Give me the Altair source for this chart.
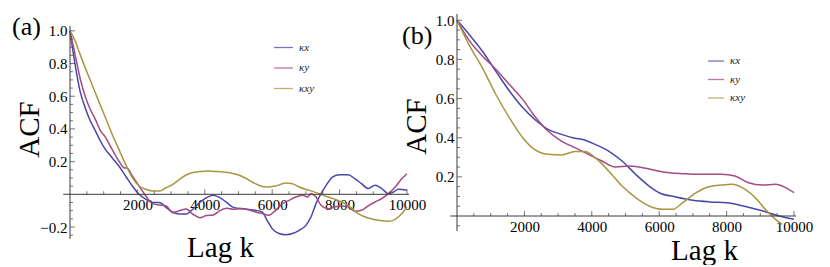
import altair as alt
import pandas as pd

SERIES = ["κx", "κy", "κxy"]
COLORS = ["#4848aa", "#a44a84", "#a89640"]
AXIS_COLOR = "#3a3a3a"
SERIF = "Liberation Serif"

# ---------------- panel (a) ----------------
a_kx_lag = [0, 150, 300, 450, 600, 750, 900, 1050, 1250, 1450, 1650, 1850, 2050, 2250, 2450, 2650,
            2850, 3050, 3250, 3450, 3650, 3850, 4050, 4250, 4450, 4650, 4850, 5200, 5500, 5700, 5850,
            6000, 6200, 6400, 6600, 6800, 7000, 7150, 7300, 7450, 7600, 7800, 8000, 8250, 8450, 8650,
            8850, 9050, 9250, 9450, 9600, 9750, 10000]
a_kx_acf = [1.0, 0.795, 0.63, 0.53, 0.45, 0.39, 0.326, 0.275, 0.224, 0.173, 0.112, 0.051, 0.0, -0.03,
            -0.05, -0.05, -0.08, -0.11, -0.12, -0.12, -0.09, -0.05, -0.02, -0.005, -0.02, -0.05, -0.08,
            -0.09, -0.098, -0.108, -0.159, -0.21, -0.24, -0.247, -0.24, -0.22, -0.19, -0.139, -0.057,
            0.004, 0.055, 0.106, 0.12, 0.12, 0.096, 0.065, 0.035, 0.055, 0.035, 0.004, 0.014, 0.031, 0.025]

a_ky_lag = [0, 150, 300, 450, 600, 750, 900, 1050, 1250, 1450, 1600, 1700, 1850, 2050, 2250, 2450,
            2650, 2850, 3050, 3250, 3450, 3650, 3850, 4050, 4250, 4450, 4650, 4850, 5050, 5300, 5500,
            5700, 5900, 6100, 6300, 6500, 6700, 6900, 7050, 7150, 7300, 7450, 7650, 7850, 8050, 8250,
            8450, 8650, 8850, 9050, 9250, 9450, 9650, 9850, 10000]
a_ky_acf = [1.0, 0.856, 0.71, 0.60, 0.52, 0.46, 0.39, 0.35, 0.275, 0.204, 0.163, 0.16, 0.112, 0.051,
            -0.01, -0.057, -0.065, -0.071, -0.112, -0.10, -0.09, -0.122, -0.143, -0.13, -0.126, -0.10,
            -0.086, -0.092, -0.088, -0.095, -0.108, -0.118, -0.128, -0.098, -0.057, -0.037, -0.016,
            -0.006, -0.016, 0.004, -0.016, -0.067, -0.088, -0.077, -0.071, -0.077, -0.104, -0.098,
            -0.071, -0.047, -0.027, 0.004, 0.045, 0.096, 0.126]

a_kxy_lag = [0, 150, 300, 450, 650, 850, 1050, 1250, 1450, 1650, 1850, 2050, 2250, 2450, 2650, 2850,
             3050, 3250, 3450, 3650, 3850, 4100, 4400, 4700, 5000, 5200, 5500, 5800, 6100, 6400, 6600,
             6800, 7100, 7400, 7650, 7950, 8250, 8550, 8850, 9150, 9450, 9650, 9850, 10000]
a_kxy_acf = [1.0, 0.94, 0.856, 0.775, 0.673, 0.57, 0.47, 0.367, 0.275, 0.183, 0.102, 0.051, 0.031, 0.02,
             0.02, 0.04, 0.061, 0.092, 0.118, 0.133, 0.139, 0.143, 0.139, 0.133, 0.118, 0.10, 0.065,
             0.045, 0.051, 0.069, 0.065, 0.045, 0.024, 0.004, -0.016, -0.037, -0.067, -0.118, -0.145,
             -0.159, -0.165, -0.153, -0.118, -0.077]

# ---------------- panel (b) ----------------
b_kx_lag = [0, 350, 750, 1150, 1550, 1950, 2300, 2700, 3100, 3500, 3700, 4100, 4500, 4900, 5300,
            5700, 6000, 6500, 7000, 7500, 8000, 8500, 9000, 9500, 10000]
b_kx_acf = [1.0, 0.93, 0.843, 0.74, 0.64, 0.554, 0.494, 0.443, 0.417, 0.397, 0.392, 0.366, 0.332,
            0.281, 0.213, 0.153, 0.119, 0.097, 0.08, 0.072, 0.068, 0.051, 0.029, 0.003, -0.017]

b_ky_lag = [0, 350, 750, 1150, 1550, 1950, 2300, 2700, 3100, 3500, 3900, 4300, 4700, 5100, 5500,
            5900, 6300, 6700, 7100, 7500, 7850, 8250, 8650, 9050, 9450, 9750, 10000]
b_ky_acf = [1.0, 0.90, 0.818, 0.75, 0.673, 0.596, 0.511, 0.434, 0.383, 0.349, 0.315, 0.281, 0.25,
            0.255, 0.247, 0.233, 0.221, 0.216, 0.213, 0.213, 0.213, 0.204, 0.17, 0.158, 0.162, 0.145, 0.119]

b_kxy_lag = [0, 350, 750, 1150, 1550, 1950, 2300, 2700, 3100, 3500, 3800, 4100, 4500, 4900, 5300,
             5700, 6100, 6400, 6700, 7100, 7450, 7850, 8150, 8550, 8850, 9150, 9450, 9650]
b_kxy_acf = [1.0, 0.877, 0.758, 0.622, 0.503, 0.40, 0.34, 0.315, 0.312, 0.329, 0.329, 0.298, 0.23,
             0.153, 0.094, 0.051, 0.034, 0.034, 0.068, 0.119, 0.148, 0.158, 0.162, 0.136, 0.094, 0.034,
             -0.017, -0.043]

# ---------------- ticks / labels ----------------
X_LABELS = [2000, 4000, 6000, 8000, 10000]
X_MAJOR_TICKS = [2000, 4000, 6000, 8000, 10000]
X_MINOR_TICKS = [500, 1000, 1500, 2500, 3000, 3500, 4500, 5000, 5500, 6500, 7000, 7500,
                 8500, 9000, 9500]
A_Y_LABELS = [-0.2, 0.2, 0.4, 0.6, 0.8, 1.0]
A_Y_MAJOR_TICKS = [-0.2, 0.2, 0.4, 0.6, 0.8, 1.0]
A_Y_MINOR_TICKS = [-0.25, -0.15, -0.1, -0.05, 0.05, 0.1, 0.15, 0.25, 0.3, 0.35, 0.45, 0.5, 0.55,
                   0.65, 0.7, 0.75, 0.85, 0.9, 0.95]
B_Y_LABELS = [0.2, 0.4, 0.6, 0.8, 1.0]
B_Y_MAJOR_TICKS = [0.2, 0.4, 0.6, 0.8, 1.0]
B_Y_MINOR_TICKS = [-0.05, 0.05, 0.1, 0.15, 0.25, 0.3, 0.35, 0.45, 0.5, 0.55, 0.65, 0.7, 0.75,
                   0.85, 0.9, 0.95]

X_DOMAIN = [0, 10060]
W, H = 339, 225


def long_df(parts):
    rows = []
    for name, lags, vals in parts:
        for k, v in zip(lags, vals):
            rows.append({"series": name, "lag": k, "acf": v})
    return pd.DataFrame(rows)


def panel(df, letter, y_domain, y_axis_span, y_labels, y_major, y_minor, x_offset,
          xt_x, xt_y, yt_x, yt_y, letter_x, letter_y, leg_x, leg_y, sym_size):
    xs = alt.Scale(domain=X_DOMAIN, nice=False, zero=False)
    ys = alt.Scale(domain=y_domain, nice=False, zero=False)
    common = dict(domain=False, ticks=False, grid=False, labelFlush=False, labelOverlap=False,
                  labelFont=SERIF, labelFontSize=15, labelColor="black",
                  titleFont=SERIF, titleFontSize=29, titleFontWeight="normal", titleColor="black")
    xa = alt.Axis(
        title="Lag k", values=X_LABELS, format="d", offset=x_offset, labelPadding=3,
        titleX=xt_x, titleY=xt_y, titleAlign="center", titleBaseline="alphabetic", **common)
    ya = alt.Axis(
        title="ACF", values=y_labels, format=".1f", labelPadding=3,
        titleX=yt_x, titleY=yt_y, titleAngle=270, titleAlign="center",
        titleBaseline="alphabetic", **common)

    lines = alt.Chart(df).mark_line(strokeWidth=1.5, interpolate="monotone").encode(
        x=alt.X("lag:Q", scale=xs, axis=xa),
        y=alt.Y("acf:Q", scale=ys, axis=ya),
        color=alt.Color("series:N", scale=alt.Scale(domain=SERIES, range=COLORS),
                        sort=SERIES,
                        legend=alt.Legend(orient="none", legendX=leg_x, legendY=leg_y,
                                          direction="vertical", title=None, symbolType="stroke",
                                          symbolSize=sym_size, symbolStrokeWidth=1.3,
                                          symbolOpacity=0.75,
                                          labelFont=SERIF, labelFontSize=11,
                                          labelFontStyle="italic", labelColor="#222",
                                          labelOffset=5, rowPadding=4.5, padding=0)),
    )

    xrule = alt.Chart(pd.DataFrame({"x": [-200], "x2": [X_DOMAIN[1]], "y": [0]})).mark_rule(
        color=AXIS_COLOR, strokeWidth=1).encode(
        x=alt.X("x:Q", scale=xs, axis=xa), x2="x2:Q", y=alt.Y("y:Q", scale=ys, axis=ya))
    yrule = alt.Chart(pd.DataFrame({"x": [0], "y": [y_axis_span[0]], "y2": [y_axis_span[1]]})).mark_rule(
        color=AXIS_COLOR, strokeWidth=1).encode(
        x=alt.X("x:Q", scale=xs, axis=xa), y=alt.Y("y:Q", scale=ys, axis=ya), y2="y2:Q")

    def xticks(vals, size):
        d = pd.DataFrame({"v": vals, "z": [0] * len(vals)})
        return alt.Chart(d).mark_tick(orient="vertical", size=size, thickness=1,
                                      color=AXIS_COLOR, yOffset=-size / 2).encode(
            x=alt.X("v:Q", scale=xs, axis=xa), y=alt.Y("z:Q", scale=ys, axis=ya))

    def yticks(vals, size):
        d = pd.DataFrame({"v": vals, "z": [0] * len(vals)})
        return alt.Chart(d).mark_tick(orient="horizontal", size=size, thickness=1,
                                      color=AXIS_COLOR, xOffset=size / 2).encode(
            y=alt.Y("v:Q", scale=ys, axis=ya), x=alt.X("z:Q", scale=xs, axis=xa))

    tag = alt.Chart(pd.DataFrame({"t": [letter]})).mark_text(
        align="left", baseline="alphabetic", font=SERIF, fontSize=26, color="black").encode(
        text="t:N", x=alt.value(letter_x), y=alt.value(letter_y))

    return alt.layer(
        lines, xrule, yrule,
        xticks(X_MAJOR_TICKS, 5), xticks(X_MINOR_TICKS, 3),
        yticks(y_major, 5), yticks(y_minor, 3),
        tag,
    ).properties(width=W, height=H)


df_a = long_df([("κx", a_kx_lag, a_kx_acf), ("κy", a_ky_lag, a_ky_acf), ("κxy", a_kxy_lag, a_kxy_acf)])
df_b = long_df([("κx", b_kx_lag, b_kx_acf), ("κy", b_ky_lag, b_ky_acf), ("κxy", b_kxy_lag, b_kxy_acf)])

pa = panel(df_a, "(a)", [-0.2734, 1.103], [-0.273, 1.03], A_Y_LABELS, A_Y_MAJOR_TICKS, A_Y_MINOR_TICKS,
           x_offset=-44.7, xt_x=150, xt_y=62, yt_x=-32, yt_y=115,
           letter_x=-58, letter_y=21, leg_x=203, leg_y=23, sym_size=361)
pb = panel(df_b, "(b)", [-0.1175, 1.032], [-0.077, 1.032], B_Y_LABELS, B_Y_MAJOR_TICKS, B_Y_MINOR_TICKS,
           x_offset=-23, xt_x=247, xt_y=43, yt_x=-32, yt_y=112,
           letter_x=-55, letter_y=30, leg_x=250, leg_y=38, sym_size=256)

chart = alt.hconcat(pa, pb, spacing=48, bounds="flush").resolve_scale(
    color="independent").resolve_legend(color="independent").properties(
    padding={"left": 4, "top": 5, "right": 4, "bottom": 0}
).configure(font=SERIF).configure_view(stroke=None)

chart.save("out.html", embed_options={"renderer": "svg", "actions": False})
